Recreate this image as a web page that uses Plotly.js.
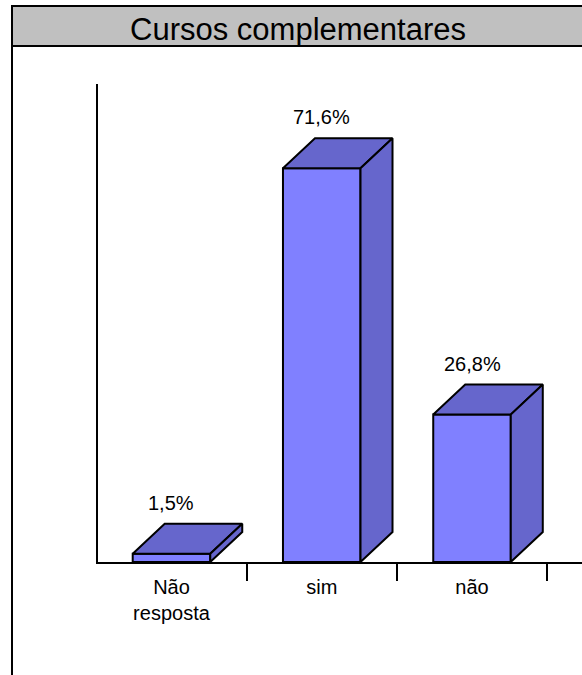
<!DOCTYPE html>
<html>
<head>
<meta charset="utf-8">
<script src="https://cdn.plot.ly/plotly-3.0.1.min.js"></script>
<style>html,body{margin:0;padding:0;background:#fff;}#chart{width:582px;height:675px;}</style>
</head>
<body>
<div id="chart"></div>
<script>
// Data
const categories = ["Não<br>resposta", "sim", "não"];
const values = [1.5, 71.6, 26.8];
const valueLabels = ["1,5%", "71,6%", "26,8%"];
const chartTitle = "Cursos complementares";

// Style / geometry
const FONT = '"Liberation Sans", Arial, sans-serif';
const FRONT = '#8080FF';
const DARK = '#6666CC';
const W = 582, H = 675;
const L = 98, R = 0, T = 84, B = 113;
const plotW = W - L - R, plotH = H - T - B;
const xRange = [-0.489, 2.732];
const yRange = [0, plotH / 5.5];
const barW = 0.516;
const dx = 32 / 150.25;
const dy = 30 / 5.5;

const xs = categories.map((c, i) => i);

const traces = [];
traces.push({
  type: 'bar', x: xs, y: values, width: barW,
  marker: {color: FRONT, line: {color: '#000', width: 2}},
  hoverinfo: 'skip', showlegend: false
});
xs.forEach((x, i) => {
  const v = values[i];
  const x0 = x - barW / 2, x1 = x + barW / 2;
  traces.push({
    type: 'scatter', mode: 'lines', fill: 'toself', fillcolor: DARK,
    x: [x0, x0 + dx, x1 + dx, x1, x0], y: [v, v + dy, v + dy, v, v],
    line: {color: '#000', width: 2}, hoverinfo: 'skip', showlegend: false, cliponaxis: false
  });
  traces.push({
    type: 'scatter', mode: 'lines', fill: 'toself', fillcolor: DARK,
    x: [x1, x1 + dx, x1 + dx, x1, x1], y: [0, dy, v + dy, v, 0],
    line: {color: '#000', width: 2}, hoverinfo: 'skip', showlegend: false, cliponaxis: false
  });
});

const px = p => (p - L) / plotW;
const py = p => (H - B - p) / plotH;

const layout = {
  width: W, height: H,
  margin: {l: L, r: R, t: T, b: B, pad: 0},
  paper_bgcolor: '#fff', plot_bgcolor: 'rgba(0,0,0,0)',
  font: {family: FONT, color: '#000', size: 20},
  title: {text: chartTitle, font: {family: FONT, size: 31, color: '#000'},
          x: 298 / W, xanchor: 'center', xref: 'container', y: 1 - 29 / H, yanchor: 'middle', yref: 'container'},
  showlegend: false,
  xaxis: {
    range: xRange, tickmode: 'array', tickvals: xs, ticktext: categories,
    ticks: '', showgrid: false, zeroline: false, showline: true, linecolor: '#000', linewidth: 2,
    tickfont: {family: FONT, size: 20, color: '#000'}, ticklabelstandoff: 6,
    minor: {tickmode: 'linear', tick0: 0.5, dtick: 1, ticks: 'outside', ticklen: 17, tickwidth: 2, tickcolor: '#000', showgrid: false},
    fixedrange: true
  },
  yaxis: {
    range: yRange, showticklabels: false, ticks: '', showgrid: false, zeroline: false,
    showline: true, linecolor: '#000', linewidth: 2, fixedrange: true
  },
  annotations: xs.map((x, i) => ({
    x: x, y: values[i] + dy, xref: 'x', yref: 'y', text: valueLabels[i], showarrow: false,
    yanchor: 'bottom', yshift: 8, font: {family: FONT, size: 20, color: '#000'}
  })),
  shapes: [
    {type: 'rect', xref: 'paper', yref: 'paper', x0: px(12), x1: px(590), y0: py(6), y1: py(46),
     fillcolor: '#C0C0C0', line: {color: '#000', width: 2}, layer: 'below'},
    {type: 'rect', xref: 'paper', yref: 'paper', x0: px(12), x1: px(590), y0: py(6), y1: py(685),
     fillcolor: 'rgba(0,0,0,0)', line: {color: '#000', width: 2}, layer: 'below'}
  ]
};

Plotly.newPlot('chart', traces, layout, {staticPlot: true, displayModeBar: false});
</script>
</body>
</html>
